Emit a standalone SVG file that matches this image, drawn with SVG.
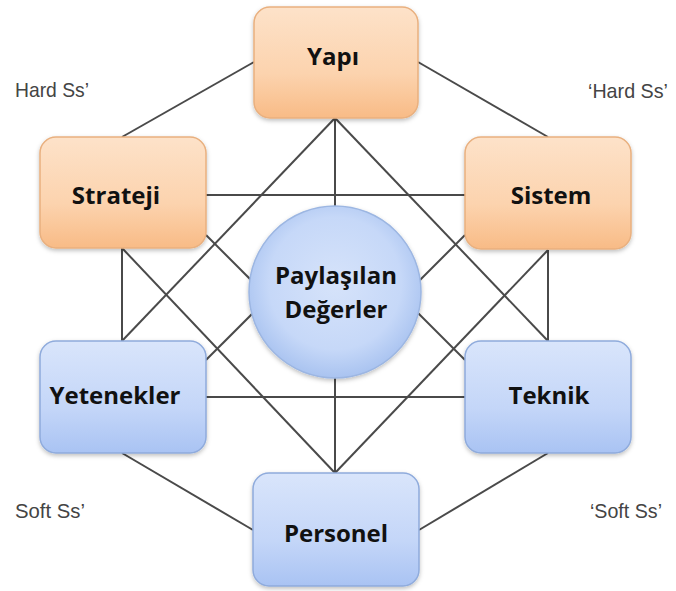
<svg xmlns="http://www.w3.org/2000/svg" width="676" height="591" viewBox="0 0 676 591">
<defs>
<linearGradient id="gOr" x1="0" y1="0" x2="0" y2="1">
<stop offset="0" stop-color="#fde2c9"/>
<stop offset="0.6" stop-color="#fcd3ae"/>
<stop offset="1" stop-color="#f8bb86"/>
</linearGradient>
<linearGradient id="gBl" x1="0" y1="0" x2="0" y2="1">
<stop offset="0" stop-color="#d9e5fb"/>
<stop offset="0.6" stop-color="#c4d6f8"/>
<stop offset="1" stop-color="#a9c3f3"/>
</linearGradient>
<radialGradient id="gCi" cx="0.5" cy="0.45" r="0.55">
<stop offset="0" stop-color="#d6e3fa"/>
<stop offset="0.7" stop-color="#c6d8f8"/>
<stop offset="1" stop-color="#a9c3f0"/>
</radialGradient>
<filter id="sh" x="-10%" y="-10%" width="120%" height="125%">
<feDropShadow dx="0" dy="2" stdDeviation="2" flood-color="#000" flood-opacity="0.25"/>
</filter>
</defs>
<style>
.ln{stroke:#4a4a4a;stroke-width:2;fill:none}
.or{fill:url(#gOr);stroke:#e9b07f;stroke-width:1.5}
.bl{fill:url(#gBl);stroke:#8fabdc;stroke-width:1.5}
.t{font-family:"Open Sans","Noto Sans",sans-serif;font-weight:bold;font-size:24px;fill:#111;text-anchor:middle}
.lb{font-family:"Liberation Sans",Arial,sans-serif;font-size:21px;fill:#444}
</style>
<g id="connectors">
<line class="ln" x1="254" y1="62" x2="122" y2="137"/>
<line class="ln" x1="418" y1="62" x2="548" y2="137"/>
<line class="ln" x1="122" y1="248" x2="122" y2="341"/>
<line class="ln" x1="548" y1="250" x2="548" y2="341"/>
<line class="ln" x1="122" y1="453" x2="253" y2="530"/>
<line class="ln" x1="548" y1="453" x2="419" y2="530"/>
<line class="ln" x1="206" y1="195" x2="465" y2="195"/>
<line class="ln" x1="206" y1="397" x2="465" y2="397"/>
<line class="ln" x1="335" y1="118" x2="335" y2="473"/>
<line class="ln" x1="335" y1="118" x2="122" y2="341"/>
<line class="ln" x1="335" y1="118" x2="548" y2="341"/>
<line class="ln" x1="335" y1="473" x2="122" y2="248"/>
<line class="ln" x1="335" y1="473" x2="548" y2="250"/>
<line class="ln" x1="206" y1="235" x2="280" y2="309"/>
<line class="ln" x1="465" y1="235" x2="391" y2="309"/>
<line class="ln" x1="206" y1="360" x2="280" y2="286"/>
<line class="ln" x1="465" y1="360" x2="391" y2="286"/>
</g>
<g id="yapi">
<rect class="or" x="254" y="7" width="164" height="111" rx="16" filter="url(#sh)"/>
<text class="t" x="333" y="65">Yapı</text>
</g>
<g id="strateji">
<rect class="or" x="40" y="137" width="166" height="111" rx="16" filter="url(#sh)"/>
<text class="t" x="116" y="204">Strateji</text>
</g>
<g id="sistem">
<rect class="or" x="465" y="137" width="166" height="112" rx="16" filter="url(#sh)"/>
<text class="t" x="551" y="204">Sistem</text>
</g>
<g id="paylasilan-degerler">
<circle cx="335" cy="292" r="86" fill="url(#gCi)" stroke="#9cb6e2" stroke-width="1.5" filter="url(#sh)"/>
<text class="t" x="336" y="284">Paylaşılan</text>
<text class="t" x="336" y="318">Değerler</text>
</g>
<g id="yetenekler">
<rect class="bl" x="40" y="341" width="166" height="112" rx="16" filter="url(#sh)"/>
<text class="t" x="115" y="404">Yetenekler</text>
</g>
<g id="teknik">
<rect class="bl" x="465" y="341" width="166" height="112" rx="16" filter="url(#sh)"/>
<text class="t" x="549" y="404">Teknik</text>
</g>
<g id="personel">
<rect class="bl" x="253" y="473" width="166" height="113" rx="16" filter="url(#sh)"/>
<text class="t" x="336" y="542">Personel</text>
</g>
<g id="labels">
<text class="lb" x="15" y="97" textLength="74" lengthAdjust="spacingAndGlyphs">Hard Ss’</text>
<text class="lb" x="588" y="98" textLength="80" lengthAdjust="spacingAndGlyphs">‘Hard Ss’</text>
<text class="lb" x="15" y="518" textLength="70" lengthAdjust="spacingAndGlyphs">Soft Ss’</text>
<text class="lb" x="590" y="518" textLength="72" lengthAdjust="spacingAndGlyphs">‘Soft Ss’</text>
</g>
</svg>
